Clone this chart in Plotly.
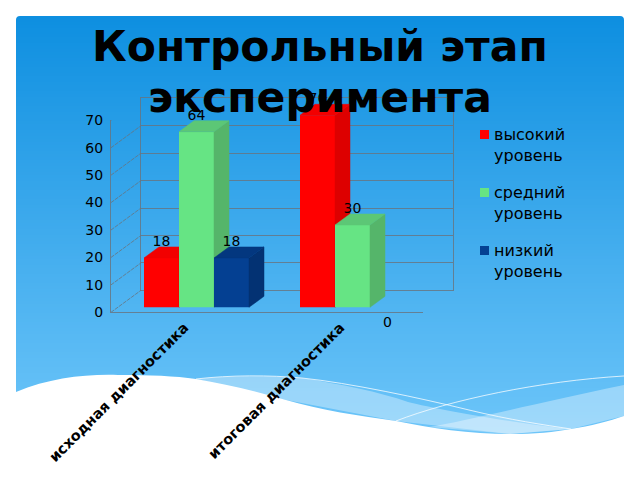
import re
import plotly.graph_objects as go

categories = ["исходная диагностика", "итоговая диагностика"]
series_names = ["высокий<br>уровень", "средний<br>уровень", "низкий<br>уровень"]
title_lines = ["Контрольный этап", "эксперимента"]
high_values = [18, 70]
mid_values = [64, 30]
low_values = [18, 0]
y_ticks = [0, 10, 20, 30, 40, 50, 60, 70]

W, H = 640, 480
GRID = "rgba(105,115,125,0.8)"
FONT = "DejaVu Sans"
PX_PER_UNIT = 192 / 70

series = [
    (high_values, "#FF0000", "#DD0000", "#F20000"),
    (mid_values, "#66E484", "#55B56A", "#5CC776"),
    (low_values, "#044092", "#033273", "#03377F"),
]


def dom_x(a, b):
    return [a / W, b / W]


def dom_y(bottom, top):
    return [1 - bottom / H, 1 - top / H]


fig = go.Figure()

# slide background: gradient strips, then the waves
shapes = []
top_c, bot_c = (14, 143, 224), (112, 199, 250)
for y in range(16, 445, 3):
    t = (y - 16) / 429
    c = [round(a + (b - a) * t) for a, b in zip(top_c, bot_c)]
    shapes.append(dict(type="rect", xref="paper", yref="paper", layer="below",
                       x0=16 / W, x1=624 / W, y0=1 - (y + 3) / H, y1=1 - y / H,
                       fillcolor=f"rgb({c[0]},{c[1]},{c[2]})", line_width=0))


def px_shape(path, **kw):
    # paths are written in pixels, shapes want page fractions
    conv = re.sub(r"(\d+),(\d+)", lambda m: f"{int(m[1]) / W:.5f},{1 - int(m[2]) / H:.5f}", path)
    return dict(type="path", path=conv, xref="paper", yref="paper", layer="below", **kw)


shapes += [
    px_shape("M196,379 C220,376 270,375 302,378 C340,384 380,392 408,402 "
             "C440,410 520,424 571,429 L510,434 L396,421 L286,400 Z",
             fillcolor="rgba(255,255,255,0.35)", line_width=0),
    px_shape("M429,427 C470,420 550,400 624,385 L624,416 L571,429 L510,434 Z",
             fillcolor="rgba(255,255,255,0.35)", line_width=0),
    px_shape("M16,392 C50,378 85,374 118,375 C150,375 175,376 196,379 "
             "C225,384 255,391 286,400 C320,410 360,416 396,421 "
             "C430,428 470,434 510,434 C535,434 555,432 571,429 "
             "C590,426 610,421 624,416 L624,480 L16,480 Z",
             fillcolor="white", line_width=0),
    px_shape("M196,379 C230,375 270,375 302,378 C350,383 420,398 469,410 "
             "C510,420 545,425 571,429",
             line=dict(color="rgba(255,255,255,0.75)", width=1)),
    px_shape("M396,421 C450,400 540,381 624,376",
             line=dict(color="rgba(255,255,255,0.75)", width=1)),
    px_shape("M0,0 L640,0 L640,480 L0,480 Z M20,16 L620,16 Q624,16 624,20 L624,440 L16,440 L16,20 Q16,16 20,16 Z",
             fillcolor="white", line_width=0),
]

# back wall: gridlines and box
fig.add_trace(go.Scatter(x=[-0.5, 1.5], y=[0, 70], mode="none", showlegend=False,
                         xaxis="x", yaxis="y", hoverinfo="skip"))

# side wall and floor edges, from the front plane to the back plane
wall_dx, wall_dy = 30 / 156, 22 / PX_PER_UNIT
wx, wy = [], []
for t in y_ticks:
    wx += [-0.5, -0.5 + wall_dx, None]
    wy += [t, t + wall_dy, None]
wx += [1.5, 1.5 + wall_dx]
wy += [0, wall_dy]
fig.add_trace(go.Scatter(x=wx, y=wy, mode="lines", showlegend=False, cliponaxis=False,
                         line=dict(color=GRID, width=1, dash="4px,1px"),
                         xaxis="x2", yaxis="y2", hoverinfo="skip"))

# bars, each series on its own axis pair so the faces stack in series order
bar_w = 35 / 156
dx, dy = wall_dx / 2, wall_dy / 2
for k, (vals, front, side, top) in enumerate(series):
    ax = k + 3
    xs = [i + (k - 1) * bar_w for i in range(len(vals))]
    fig.add_trace(go.Bar(x=xs, y=vals, width=bar_w, marker=dict(color=front, line_width=0),
                         showlegend=False, xaxis=f"x{ax}", yaxis=f"y{ax}"))
    for x, v in zip(xs, vals):
        if v <= 0:
            continue
        r = x + bar_w / 2
        l = x - bar_w / 2
        fig.add_trace(go.Scatter(x=[r, r + dx, r + dx, r, r], y=[0, dy, v + dy, v, 0],
                                 mode="lines", fill="toself", fillcolor=side,
                                 line=dict(color=side, width=0.5), cliponaxis=False,
                                 showlegend=False, xaxis=f"x{ax}", yaxis=f"y{ax}"))
        fig.add_trace(go.Scatter(x=[l, l + dx, r + dx, r, l], y=[v, v + dy, v + dy, v, v],
                                 mode="lines", fill="toself", fillcolor=top,
                                 line=dict(color=top, width=0.5), cliponaxis=False,
                                 showlegend=False, xaxis=f"x{ax}", yaxis=f"y{ax}"))
    fig.add_trace(go.Scatter(x=xs, y=[v + 5.6 if v > 0 else -6 for v in vals],
                             mode="text", text=[str(v) for v in vals],
                             textfont=dict(family=FONT, size=14, color="black"),
                             textposition="middle center", cliponaxis=False,
                             showlegend=False, xaxis=f"x{ax}", yaxis=f"y{ax}"))

annotations = []
# title as two pieces, plotly's own line height is too big at this size
for line, y_px in zip(title_lines, (47, 98)):
    annotations.append(dict(text=f"<b>{line}</b>", xref="paper", yref="paper", x=0.5, y=1 - y_px / H,
                            xanchor="center", yanchor="middle", showarrow=False,
                            font=dict(family=FONT, size=42.5, color="black")))

# hand drawn legend, the native one can't get the swatch this close to the text
for k, (name, s) in enumerate(zip(series_names, series)):
    y0 = 130 + k * 58
    shapes.append(dict(type="rect", xref="paper", yref="paper",
                       x0=480 / W, x1=489 / W, y0=1 - (y0 + 9) / H, y1=1 - y0 / H,
                       fillcolor=s[1], line_width=0))
    annotations.append(dict(text=name, xref="paper", yref="paper", x=492 / W, y=1 - (y0 + 14.5) / H,
                            xanchor="left", yanchor="middle", align="left", showarrow=False,
                            font=dict(family=FONT, size=16, color="black")))

hidden = dict(visible=False, fixedrange=True)
fig.update_layout(
    template="none",
    width=W, height=H, margin=dict(l=0, r=0, t=0, b=0, pad=0),
    autosize=False,
    paper_bgcolor="white", plot_bgcolor="rgba(0,0,0,0)",
    hovermode=False,
    shapes=shapes, annotations=annotations,
    # back wall
    xaxis=dict(domain=dom_x(141, 453), range=[-0.5, 1.5], showgrid=False, zeroline=False, automargin=False,
               showticklabels=False, ticks="", showline=True, mirror=True, linecolor=GRID, linewidth=1),
    yaxis=dict(domain=dom_y(290.3, 98.3), range=[0, 70], tickvals=y_ticks, showticklabels=False, automargin=False,
               ticks="", showgrid=True, gridcolor=GRID, gridwidth=1, zeroline=False,
               showline=True, mirror=True, linecolor=GRID, linewidth=1),
    # front plane, carries the labels
    xaxis2=dict(domain=dom_x(111, 423), range=[-0.5, 1.5], anchor="y2", tickvals=[-0.03, 0.97], automargin=False,
                ticktext=[f"<b>{c}</b>" for c in categories], tickangle=-45, showgrid=False,
                zeroline=False, ticks="", showline=True, linecolor=GRID, linewidth=1,
                tickfont=dict(family=FONT, size=14.5, color="black")),
    yaxis2=dict(domain=dom_y(312.3, 120.3), range=[0, 70], anchor="x2", tickvals=y_ticks, automargin=False,
                showgrid=False, zeroline=False, ticks="outside", ticklen=4, tickcolor="rgba(0,0,0,0)",
                showline=True, linecolor=GRID, linewidth=1,
                tickfont=dict(family=FONT, size=14, color="black")),
)
# series axes run past the walls both ways, the top faces and the 0 label sit outside 0..70
y_lo, y_hi = -10, 90
for ax in (3, 4, 5):
    fig.update_layout({
        f"xaxis{ax}": dict(domain=dom_x(118.5, 430.5), range=[-0.5, 1.5], anchor=f"y{ax}", **hidden),
        f"yaxis{ax}": dict(domain=dom_y(307.3 - y_lo * PX_PER_UNIT, 307.3 - y_hi * PX_PER_UNIT),
                           range=[y_lo, y_hi], anchor=f"x{ax}", **hidden),
    })

# the page's default body margin would push everything 8px down and right
fig.write_html("out.html", config=dict(displayModeBar=False),
               post_script="document.body.style.margin='0';document.body.style.overflow='hidden';")
